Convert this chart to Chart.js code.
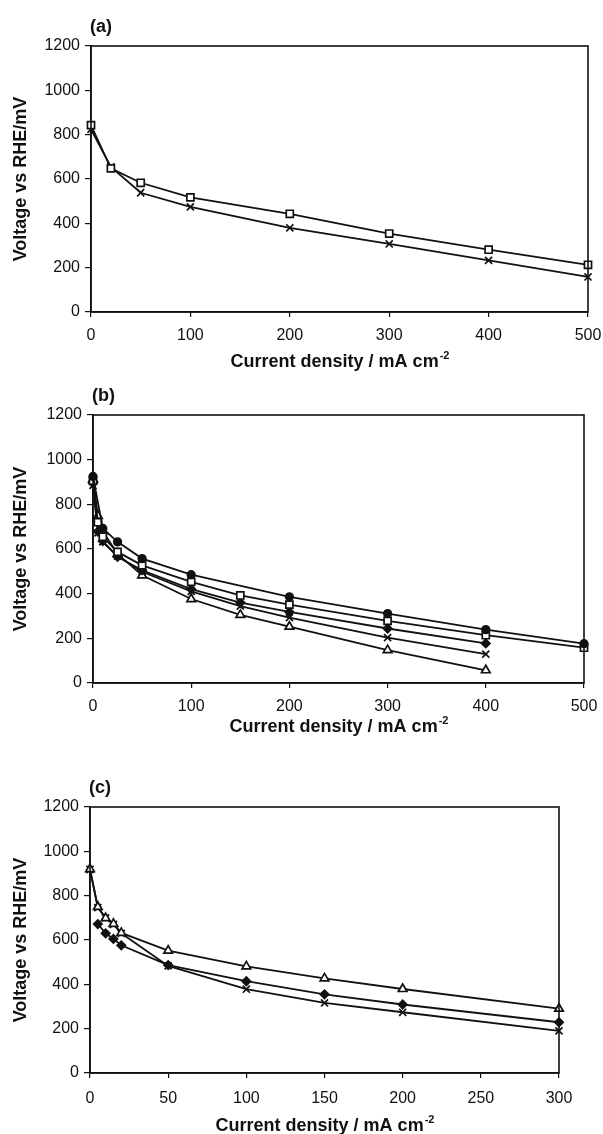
<!DOCTYPE html>
<html>
<head>
<meta charset="utf-8">
<script src="https://cdn.jsdelivr.net/npm/chart.js@4.4.0/dist/chart.umd.min.js"></script>
<style>
  body { margin: 0; background: #fff; }
  .wrap { position: relative; width: 603px; height: 1134px; }
  canvas { position: absolute; left: 0; }
</style>
</head>
<body>
<div class="wrap">
  <canvas id="chartA" width="603" height="375" style="top:0px"></canvas>
  <canvas id="chartB" width="603" height="365" style="top:375px"></canvas>
  <canvas id="chartC" width="603" height="394" style="top:740px"></canvas>
</div>
<script>
// panel (a)
const aX = [0, 20, 50, 100, 200, 300, 400, 500];
const aSquare = [843, 648, 583, 517, 443, 354, 281, 213];
const aCross = [824, 655, 538, 474, 380, 307, 233, 158];

// panel (b)
const bCircleX = [0, 10, 25, 50, 100, 200, 300, 400, 500];
const bCircle = [925, 692, 632, 557, 485, 386, 311, 239, 176];
const bSquareX = [0, 5, 10, 25, 50, 100, 150, 200, 300, 400, 500];
const bSquare = [905, 720, 655, 587, 527, 453, 392, 351, 278, 214, 158];
const bX = [0, 5, 10, 25, 50, 100, 150, 200, 300, 400];
const bDiamond = [895, 678, 635, 565, 505, 420, 360, 318, 244, 177];
const bCross = [885, 672, 632, 568, 498, 410, 344, 293, 203, 129];
const bTriangle = [912, 748, 680, 578, 482, 376, 305, 252, 147, 57];

// panel (c)
const cX = [0, 5, 10, 15, 20, 50, 100, 150, 200, 300];
const cTriangle = [920, 749, 699, 673, 632, 552, 481, 427, 379, 290];
const cCross = [918, 746, 700, 670, 630, 483, 378, 316, 274, 190];
const cDotX = [5, 10, 15, 20, 50, 100, 150, 200, 300];
const cDot = [672, 630, 605, 576, 487, 414, 355, 309, 229];

const yTicks = [0, 200, 400, 600, 800, 1000, 1200];
const yTitle = 'Voltage vs RHE/mV';
const xTitle = 'Current density / mA cm';
const xTitleSup = '-2';

const INK = '#111';
const FONT = '"Liberation Sans", Arial, sans-serif';

function pts(xs, ys) {
  return xs.map((x, i) => ({ x: x, y: ys[i] }));
}

function series(xs, ys, shape, radius, filled) {
  return {
    data: pts(xs, ys),
    borderColor: INK,
    borderWidth: 1.8,
    pointStyle: shape,
    pointRadius: radius,
    pointBorderWidth: 1.7,
    pointBorderColor: INK,
    pointBackgroundColor: filled ? INK : '#fff',
    tension: 0,
    clip: false
  };
}

// box round the plot, panel letter and both axis titles
const frame = {
  id: 'frame',
  afterDraw(chart, args, opts) {
    const ctx = chart.ctx, a = chart.chartArea;
    ctx.save();
    ctx.strokeStyle = INK;
    ctx.lineWidth = 1.6;
    ctx.strokeRect(a.left, a.top, a.right - a.left, a.bottom - a.top);

    ctx.fillStyle = INK;
    ctx.font = 'bold 18px ' + FONT;
    ctx.textAlign = 'left';
    ctx.textBaseline = 'middle';
    ctx.fillText(opts.label, a.left - 1, a.top - 19);

    // x title with superscript
    const cx = (a.left + a.right) / 2;
    const y = a.bottom + opts.xTitleGap;
    const w1 = ctx.measureText(xTitle).width;
    ctx.font = 'bold 11px ' + FONT;
    const w2 = ctx.measureText(xTitleSup).width;
    const x0 = cx - (w1 + w2) / 2;
    ctx.font = 'bold 18px ' + FONT;
    ctx.fillText(xTitle, x0, y);
    ctx.font = 'bold 11px ' + FONT;
    ctx.fillText(xTitleSup, x0 + w1 + 1, y - 6);

    // y title
    ctx.font = 'bold 18px ' + FONT;
    ctx.translate(21, (a.top + a.bottom) / 2);
    ctx.rotate(-Math.PI / 2);
    ctx.textAlign = 'center';
    ctx.fillText(yTitle, 0, 0);
    ctx.restore();
  }
};

function makeChart(id, datasets, cfg) {
  return new Chart(document.getElementById(id), {
    type: 'line',
    data: { datasets: datasets },
    plugins: [frame],
    options: {
      responsive: false,
      animation: false,
      devicePixelRatio: 1,
      layout: { padding: { top: cfg.top, right: cfg.right, left: 0, bottom: 0 } },
      plugins: {
        legend: { display: false },
        tooltip: { enabled: false },
        frame: { label: cfg.label, xTitleGap: cfg.xTitleGap }
      },
      scales: {
        x: {
          type: 'linear',
          min: 0,
          max: cfg.xMax,
          afterFit: s => {
            s.height = cfg.xHeight;
            s.paddingLeft = 0;
            s.paddingRight = 0;
          },
          ticks: {
            stepSize: cfg.xStep,
            autoSkip: false,
            maxRotation: 0,
            padding: cfg.xPad,
            color: INK,
            font: { family: FONT, size: 16 }
          },
          grid: { drawOnChartArea: false, drawTicks: true, tickLength: 5, color: INK, lineWidth: 1.2 },
          border: { display: true, color: INK, width: 1.6 }
        },
        y: {
          type: 'linear',
          min: 0,
          max: 1200,
          afterFit: s => {
            s.width = cfg.left;
            s.paddingTop = 0;
            s.paddingBottom = 0;
          },
          afterBuildTicks: s => { s.ticks = yTicks.map(v => ({ value: v })); },
          ticks: {
            padding: 5,
            color: INK,
            font: { family: FONT, size: 16 },
            callback: v => String(v)
          },
          grid: { drawOnChartArea: false, drawTicks: true, tickLength: 6, color: INK, lineWidth: 1.2 },
          border: { display: true, color: INK, width: 1.6 }
        }
      }
    }
  });
}

makeChart('chartA', [
  series(aX, aSquare, 'rect', 5, false),
  series(aX, aCross, 'crossRot', 5, false)
], { label: '(a)', top: 46, right: 15, left: 91, xHeight: 63, xMax: 500, xStep: 100, xPad: 9, xTitleGap: 50 });

makeChart('chartB', [
  series(bCircleX, bCircle, 'circle', 3.8, true),
  series(bSquareX, bSquare, 'rect', 5, false),
  series(bX, bDiamond, 'rectRot', 4.2, true),
  series(bX, bCross, 'crossRot', 5, false),
  series(bX, bTriangle, 'triangle', 5, false)
], { label: '(b)', top: 40, right: 19, left: 93, xHeight: 57, xMax: 500, xStep: 100, xPad: 9, xTitleGap: 44 });

makeChart('chartC', [
  series(cX, cTriangle, 'triangle', 5, false),
  series(cDotX, cDot, 'rectRot', 4.2, true),
  series(cX, cCross, 'crossRot', 5, false)
], { label: '(c)', top: 67, right: 44, left: 90, xHeight: 61, xMax: 300, xStep: 50, xPad: 11, xTitleGap: 53 });
</script>
</body>
</html>
